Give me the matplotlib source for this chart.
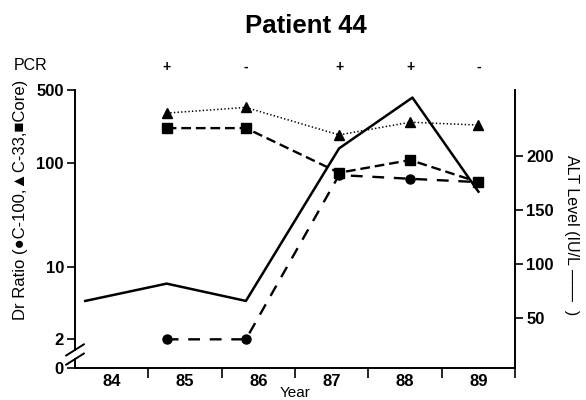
import numpy as np
import matplotlib
matplotlib.use("Agg")
from matplotlib import pyplot as plt
from matplotlib import transforms as mtransforms

plt.rcParams['font.family'] = ['Liberation Sans', 'DejaVu Sans']
plt.rcParams['lines.scale_dashes'] = False

# data
years = [85.25, 86.33, 87.6, 88.57, 89.5]
c100 = [2.0, 2.0, 76, 70, 65]
c33 = [300, 340, 185, 245, 230]
core = [215, 215, 80, 106, 65]
pcr = ['+', '-', '+', '+', '-']

alt_years = [84.14, 85.25, 86.33, 87.6, 88.6, 89.5]
alt = [66, 82, 66, 207, 254, 167]

year_labels = ['84', '85', '86', '87', '88', '89']
left_ticks = [2, 10, 100, 500]
right_ticks = [50, 100, 150, 200]

fig = plt.figure(figsize=(5.86, 4.0), dpi=100)
ax = fig.add_axes([0.128, 0.08, 0.751, 0.695])
ax2 = ax.twinx()

# Dr ratio lines (log axis)
ax.plot(years, c33, color='black', lw=1.1, ls=(0, (1, 1.6)),
        marker='^', ms=7.5, mec='black', mfc='black')
ax.plot(years, core, color='black', lw=1.7, ls=(0, (7, 3.5)),
        marker='s', ms=6.5, mec='black', mfc='black')
ax.plot(years, c100, color='black', lw=1.7, ls=(0, (8.5, 7)),
        marker='o', ms=6.5, mec='black', mfc='black')

ymin = 1.06
ax.set_yscale('log')
ax.set_ylim(ymin, 500)
ax.set_xlim(84, 90)
ax.set_yticks([ymin] + left_ticks)
ax.set_yticklabels(['0'] + [str(t) for t in left_ticks])
ax.yaxis.set_minor_locator(matplotlib.ticker.NullLocator())
ax.tick_params(axis='y', which='major', length=6, width=1.2, labelsize=12, direction='out', pad=2)

# x: ticks at year boundaries, labels in the middle
ax.set_xticks(np.arange(85, 91))
ax.set_xticklabels([])
ax.set_xticks(np.arange(84.5, 90.5, 1.0), minor=True)
ax.set_xticklabels(year_labels, minor=True)
ax.tick_params(axis='x', which='major', length=7, width=1.2, direction='out')
ax.tick_params(axis='x', which='minor', length=0, labelsize=12, pad=4)
ax.set_xlabel('Year', fontsize=11, labelpad=-1.5)
for lab in ax.get_xticklabels(minor=True) + ax.get_yticklabels():
    lab.set_fontweight('bold')

# ALT level (linear axis)
ax2.plot(alt_years, alt, color='black', lw=1.8)
ax2.set_ylim(4, 261)
ax2.set_yticks(right_ticks)
ax2.tick_params(axis='y', length=6, width=1.2, labelsize=12, pad=2)
for lab in ax2.get_yticklabels():
    lab.set_fontweight('bold')

for a in (ax, ax2):
    a.spines['top'].set_visible(False)
    for s in a.spines.values():
        s.set_linewidth(1.4)
ax.spines['right'].set_visible(False)
ax2.spines['left'].set_visible(False)
ax2.spines['bottom'].set_visible(False)

# broken left spine with // marks
ax.spines['left'].set_visible(False)
kw = dict(transform=ax.transAxes, color='black', lw=1.4, clip_on=False)
ax.plot([0, 0], [0.066, 1.0], **kw)
ax.plot([0, 0], [0.0, 0.032], **kw)
ax.plot([-0.02, 0.02], [0.045, 0.085], **kw)
ax.plot([-0.02, 0.02], [0.012, 0.052], **kw)

fig.text(0.035, 0.5, 'Dr Ratio (\u25cfC-100,\u25b2C-33,\u25a0Core)', fontsize=12,
         rotation=90, ha='center', va='center')
fig.text(0.975, 0.612, 'ALT Level (IU/L \u2014\u2014  )', fontsize=11.5,
         rotation=-90, ha='left', va='center', rotation_mode='anchor')

# PCR row
trans = mtransforms.blended_transform_factory(ax.transData, fig.transFigure)
fig.text(0.024, 0.835, 'PCR', fontsize=11.5, ha='left', va='center')
for x, s in zip(years, pcr):
    ax.text(x, 0.833, s, transform=trans, ha='center', va='center',
            fontsize=10, fontweight='bold')

fig.text(0.522, 0.935, 'Patient 44', fontsize=18.5, fontweight='bold',
         ha='center', va='center')

fig.savefig('out.png', dpi=100)
